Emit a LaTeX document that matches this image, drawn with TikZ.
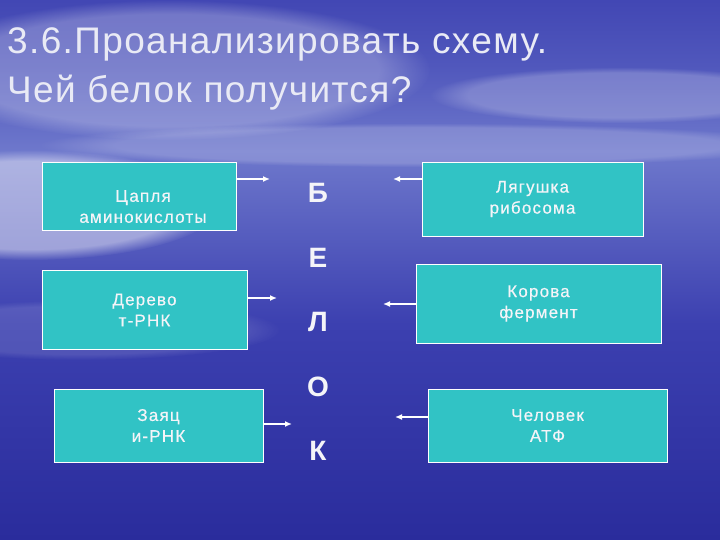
\documentclass[tikz,border=0pt]{standalone}
\usepackage{fontspec}
\setmainfont{Liberation Sans}
\newfontfamily\titlefont[LetterSpace=3.7]{Liberation Sans}
\newfontfamily\boxfont[LetterSpace=7,FakeBold=0.5]{Liberation Sans}
\usetikzlibrary{positioning,arrows.meta,fadings}

\definecolor{skytop}{HTML}{5057BC}
\definecolor{skyband}{HTML}{6E78CC}
\definecolor{skymid}{HTML}{3C40B0}
\definecolor{skydeep}{HTML}{2A2C9C}
\definecolor{boxteal}{HTML}{31C3C5}
\definecolor{inkwhite}{HTML}{F4F4F8}

\pgfdeclareverticalshading{sky}{100bp}{color(0bp)=(skydeep); color(25bp)=(skydeep); color(45bp)=(skymid); color(61bp)=(skyband); color(69bp)=(skytop); color(75bp)=(skymid!70!skytop); color(100bp)=(skymid!70!skytop)}

\begin{document}
\begin{tikzpicture}[x=1pt, y=-1pt,
  cell/.style={draw=white, line width=0.8pt, fill=boxteal, text=inkwhite,
    align=center, inner sep=0pt, font=\boxfont\fontsize{17}{21}\selectfont},
  celltext/.style={text=inkwhite, align=center, inner sep=0pt,
    font=\boxfont\fontsize{17}{21}\selectfont},
  letter/.style={text=inkwhite, font=\bfseries\fontsize{28}{28}\selectfont,
    inner sep=0pt, minimum height=64pt, text height=20pt, text depth=0pt},
  heading/.style={text=inkwhite!92!skyband, font=\titlefont\fontsize{37}{37}\selectfont,
    inner sep=0pt, anchor=base west},
  arrow/.style={draw=white, line width=1.6pt, -{Latex[length=7pt,width=6pt]}},
  cloud/.style={fill=white, path fading=circle with fuzzy edge 20 percent}]
  \useasboundingbox (0,0) rectangle (720,540);
  \shade[shading=sky] (0,0) rectangle (720,540);
  \begin{scope}
    \clip (0,0) rectangle (720,540);
    \fill[cloud, opacity=.45] (30,205) ellipse [x radius=190, y radius=55];
    \fill[cloud, opacity=.25] (170,70) ellipse [x radius=260, y radius=70];
    \fill[cloud, opacity=.22] (620,95) ellipse [x radius=190, y radius=28];
    \fill[cloud, opacity=.18] (420,145) ellipse [x radius=380, y radius=22];
    \fill[cloud, opacity=.12] (80,330) ellipse [x radius=200, y radius=30];
  \end{scope}

  \node[heading] (title) at (7,54) {3.6.Проанализировать схему.};
  \node[heading] (question) at ([yshift=-49pt]title.base west) {Чей белок получится?};

  \node[cell, minimum width=194pt, minimum height=68pt,
    label={[celltext, xshift=4pt, yshift=-10pt]center:{Цапля\\аминокислоты}}] (heron) at (139,196.5) {};
  \node[cell, minimum width=205pt, minimum height=79pt] (tree) at (144.5,310) {Дерево\\т-РНК};
  \node[cell, minimum width=209pt, minimum height=73pt] (hare) at (158.5,425.5) {Заяц\\и-РНК};
  \node[cell, minimum width=221pt, minimum height=74pt] (frog) at (532.5,199) {Лягушка\\рибосома};
  \node[cell, minimum width=245pt, minimum height=79pt] (cow) at (538.5,303.5) {Корова\\фермент};
  \node[cell, minimum width=239pt, minimum height=73pt] (human) at (547.5,425.5) {Человек\\АТФ};

  \node[letter] (b) at (318,193) {Б};
  \node[letter, below=0pt of b] (e) {Е};
  \node[letter, below=0pt of e] (l) {Л};
  \node[letter, below=0pt of l] (o) {О};
  \node[letter, below=0pt of o] (k) {К};

  \coordinate (tip1) at (270,179);
  \coordinate (tip2) at (277,298);
  \coordinate (tip3) at (292,424);
  \coordinate (tip4) at (393,179);
  \coordinate (tip5) at (383,304);
  \coordinate (tip6) at (395,417);
  \draw[arrow] (heron.east |- tip1) -- (tip1);
  \draw[arrow] (tree.east |- tip2) -- (tip2);
  \draw[arrow] (hare.east |- tip3) -- (tip3);
  \draw[arrow] (frog.west |- tip4) -- (tip4);
  \draw[arrow] (cow.west |- tip5) -- (tip5);
  \draw[arrow] (human.west |- tip6) -- (tip6);
\end{tikzpicture}
\end{document}
